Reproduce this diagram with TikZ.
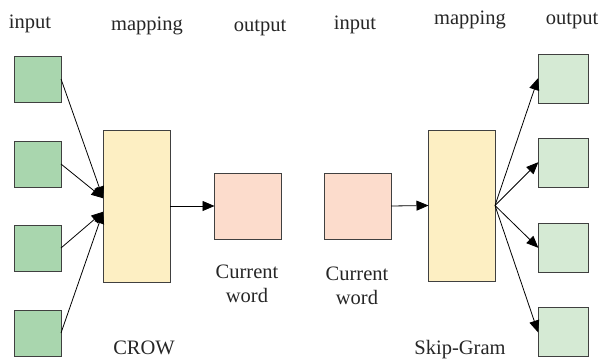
\documentclass[tikz,border=0pt]{standalone}
\usepackage{fontspec}
\setmainfont{Liberation Serif}
\usetikzlibrary{arrows.meta}
\definecolor{ingreen}{HTML}{A9D6AE}
\definecolor{outgreen}{HTML}{D5EAD4}
\definecolor{mapyellow}{HTML}{FDEFC3}
\definecolor{wordpink}{HTML}{FCDCCC}
\definecolor{edge}{HTML}{404040}
\begin{document}
\begin{tikzpicture}[x=1pt,y=-1pt,
  box/.style={draw=edge,line width=0.8pt,inner sep=0pt,outer sep=0pt},
  lbl/.style={font=\fontsize{20.5}{24}\selectfont,text=black!85,align=center,inner sep=0pt},
  arr/.style={-{Triangle[length=12pt,width=10pt]},line width=0.8pt,black,shorten >=-0.5pt}]
\useasboundingbox (0,0) rectangle (600,362);
% left
\node[box,fill=ingreen,minimum width=47pt,minimum height=46pt] (i1) at (37.5,79) {};
\node[box,fill=ingreen,minimum width=47pt,minimum height=46pt] (i2) at (37.5,164) {};
\node[box,fill=ingreen,minimum width=47pt,minimum height=46pt] (i3) at (37.5,248) {};
\node[box,fill=ingreen,minimum width=47pt,minimum height=46pt] (i4) at (37.5,333) {};
\node[box,fill=mapyellow,minimum width=67pt,minimum height=152pt] (m1) at (136.5,206) {};
\node[box,fill=wordpink,minimum width=67pt,minimum height=66pt] (o1) at (247.5,206) {};
\coordinate (t1) at (103,198);
\coordinate (t2) at (103,212);
\draw[arr] (i1.east) -- (t1);
\draw[arr] (i2.east) -- (t1);
\draw[arr] (i3.east) -- (t2);
\draw[arr] (i4.east) -- (t2);
\draw[arr] (m1.east) -- (o1.west);
\node[lbl] (li) at (30,24) {input};
\node[lbl] (lm) at (147,26) {mapping};
\node[lbl] (lo) at (260,28) {output};
\node[lbl] (lw1) at (247,284) {Current\\word};
\node[lbl] (lc) at (144,348) {CROW};
% right
\node[box,fill=wordpink,minimum width=67pt,minimum height=66pt] (i5) at (357.5,206) {};
\node[box,fill=mapyellow,minimum width=67pt,minimum height=151pt] (m2) at (461.5,205.5) {};
\node[box,fill=outgreen,minimum width=50pt,minimum height=49pt] (o2) at (563,78.5) {};
\node[box,fill=outgreen,minimum width=50pt,minimum height=49pt] (o3) at (563,162.5) {};
\node[box,fill=outgreen,minimum width=50pt,minimum height=49pt] (o4) at (563,247.5) {};
\node[box,fill=outgreen,minimum width=50pt,minimum height=49pt] (o5) at (563,332) {};
\draw[arr] (i5.east) -- (m2.west);
\draw[arr] (m2.east) -- (o2.west);
\draw[arr] (m2.east) -- (o3.west);
\draw[arr] (m2.east) -- (o4.west);
\draw[arr] (m2.east) -- (o5.west);
\node[lbl] (ri) at (355,25) {input};
\node[lbl] (rm) at (470,20) {mapping};
\node[lbl] (ro) at (572,21) {output};
\node[lbl] (rw) at (357,286) {Current\\word};
\node[lbl] (rs) at (460,350) {Skip-Gram};
\end{tikzpicture}
\end{document}
